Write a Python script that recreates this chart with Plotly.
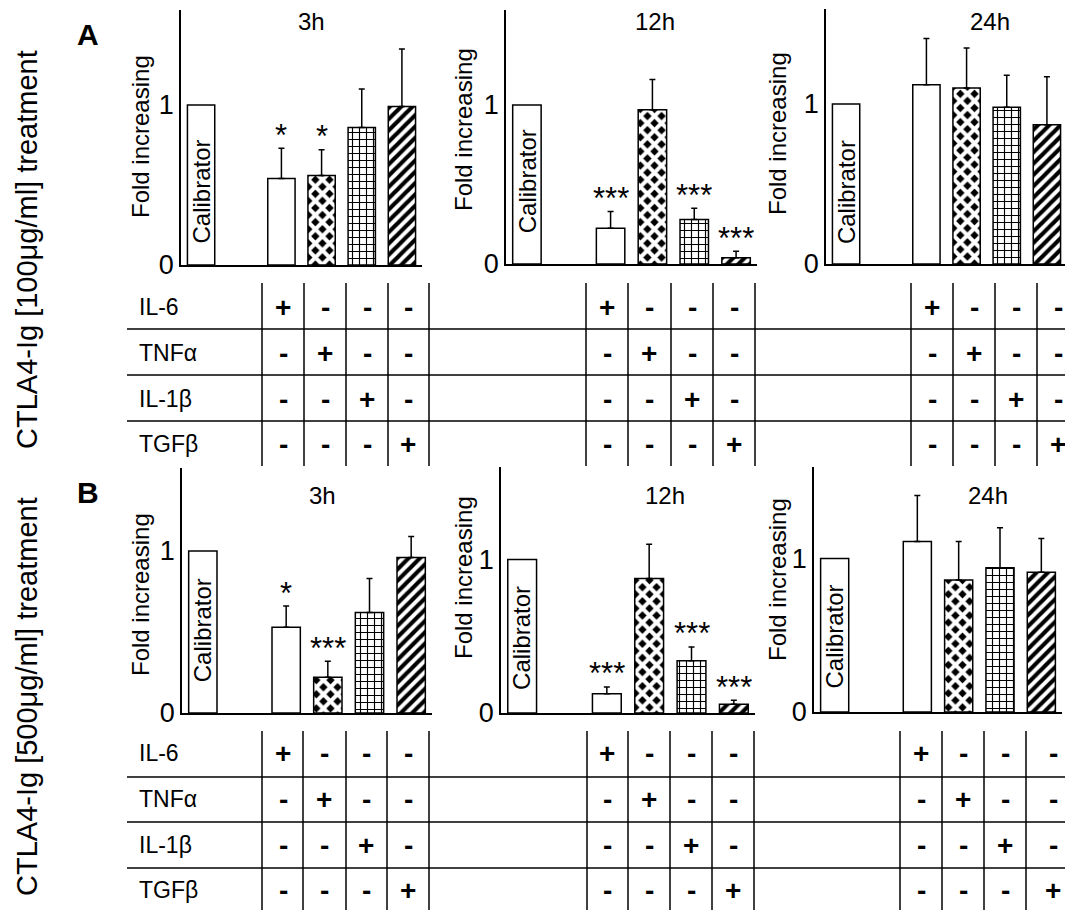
import plotly.graph_objects as go

# page is 1073x910; the html body adds an 8px margin around the figure.
# The figure height is set so that its drawn area covers page rows 8..910.
PAGE_W, PAGE_H = 1073, 910
OFF = 8
W = PAGE_W - 2 * OFF          # 1057
H = 918                        # layout height
HR = PAGE_H - OFF              # drawn height in the photograph
FONT = "Liberation Sans, Arial, sans-serif"

# ---------------- data ----------------
treatments = ["IL-6", "TNFα", "IL-1β", "TGFβ"]
timepoints = ["3h", "12h", "24h"]
panel_letters = ["A", "B"]
row_titles = ["CTLA4-Ig [100μg/ml] treatment", "CTLA4-Ig [500μg/ml] treatment"]
calibrator_value = 1.0

A_3h_mean = [0.54, 0.56, 0.86, 0.99]
A_3h_err = [0.19, 0.16, 0.24, 0.36]
A_3h_sig = ["*", "*", "", ""]

A_12h_mean = [0.225, 0.97, 0.28, 0.04]
A_12h_err = [0.105, 0.19, 0.07, 0.04]
A_12h_sig = ["***", "", "***", "***"]

A_24h_mean = [1.12, 1.10, 0.98, 0.87]
A_24h_err = [0.29, 0.25, 0.20, 0.30]
A_24h_sig = ["", "", "", ""]

B_3h_mean = [0.53, 0.22, 0.62, 0.96]
B_3h_err = [0.13, 0.10, 0.21, 0.13]
B_3h_sig = ["*", "***", "", ""]

B_12h_mean = [0.126, 0.876, 0.34, 0.057]
B_12h_err = [0.044, 0.224, 0.09, 0.026]
B_12h_sig = ["***", "", "***", "***"]

B_24h_mean = [1.11, 0.86, 0.94, 0.91]
B_24h_err = [0.30, 0.25, 0.26, 0.22]
B_24h_sig = ["", "", "", ""]

# ---------------- layout / style config (page pixels) ----------------
data = {
    ("A", "3h"): (A_3h_mean, A_3h_err, A_3h_sig),
    ("A", "12h"): (A_12h_mean, A_12h_err, A_12h_sig),
    ("A", "24h"): (A_24h_mean, A_24h_err, A_24h_sig),
    ("B", "3h"): (B_3h_mean, B_3h_err, B_3h_sig),
    ("B", "12h"): (B_12h_mean, B_12h_err, B_12h_sig),
    ("B", "24h"): (B_24h_mean, B_24h_err, B_24h_sig),
}
# pixel box: x_left, x_right, y_top, y_zero, pixels per unit
box = {
    ("A", "3h"): (181, 422, 10, 265, 160),
    ("A", "12h"): (506, 757, 10, 264, 159),
    ("A", "24h"): (826, 1067, 9, 264, 160),
    ("B", "3h"): (182, 432, 468, 713, 162),
    ("B", "12h"): (501, 755, 467, 713, 153.5),
    ("B", "24h"): (814, 1062, 467, 712, 153.5),
}
ylabel_pos = {
    ("A", "3h"): (140, 137), ("A", "12h"): (463, 130), ("A", "24h"): (778, 133),
    ("B", "3h"): (140, 595), ("B", "12h"): (463, 578), ("B", "24h"): (777, 580),
}
title_pos = {
    ("A", "3h"): (311, 22), ("A", "12h"): (655, 22), ("A", "24h"): (990, 22),
    ("B", "3h"): (322, 495), ("B", "12h"): (665, 495), ("B", "24h"): (988, 495),
}
calib_text_y = {
    ("A", "3h"): 0.46, ("A", "12h"): 0.52, ("A", "24h"): 0.45,
    ("B", "3h"): 0.51, ("B", "12h"): 0.49, ("B", "24h"): 0.49,
}

pat_shape = ["", "x", "+", "/"]
pat_bg = ["white", "black", "white", "white"]
pat_fg = ["black", "white", "black", "black"]
pat_sol = [0.2, 0.65, 0.3, 0.52]
pat_size = [8, 10, 7, 8]

BAR_W = 0.68
X_MIN, X_MAX = -0.5, 5.5


def px(x):
    return min(1.0, max(0.0, (x - OFF) / W))


def py(y):
    return min(1.0, max(0.0, 1 - (y - OFF) / HR))


fig = go.Figure()
annotations = []
shapes = []

k = 0
for letter in panel_letters:
    for tp in timepoints:
        k += 1
        key = (letter, tp)
        means, errs, sig = data[key]
        x0, x1, ytop, yzero, unit = box[key]
        xa = "x" if k == 1 else f"x{k}"
        ya = "y" if k == 1 else f"y{k}"
        xl = "xaxis" if k == 1 else f"xaxis{k}"
        yl = "yaxis" if k == 1 else f"yaxis{k}"

        ux = (x1 - x0) / (X_MAX - X_MIN)
        x1c = min(x1, OFF + W)
        xmax = X_MIN + (x1c - x0) / ux
        ytc = max(ytop, OFF)
        ymax = (yzero - ytc) / unit

        positions = [i + 2 for i in range(len(means))]

        fig.add_trace(go.Bar(
            x=[0], y=[calibrator_value], width=[BAR_W], xaxis=xa, yaxis=ya,
            marker=dict(color="white", line=dict(color="black", width=1.5)),
            showlegend=False, hoverinfo="skip"))
        fig.add_trace(go.Bar(
            x=positions, y=means, width=[BAR_W] * len(means), xaxis=xa, yaxis=ya,
            marker=dict(color="white", line=dict(color="black", width=1.5),
                        pattern=dict(shape=pat_shape, bgcolor=pat_bg, fgcolor=pat_fg,
                                     solidity=pat_sol, size=pat_size, fillmode="replace")),
            error_y=dict(type="data", symmetric=False, array=errs,
                         arrayminus=[0] * len(errs), color="black", thickness=1.5, width=3),
            showlegend=False, hoverinfo="skip"))

        fig.layout[xl] = dict(
            domain=[px(x0), px(x1c)], range=[X_MIN, xmax], anchor=ya,
            showline=True, linecolor="black", linewidth=1.5, showticklabels=False,
            ticks="", showgrid=False, zeroline=False, fixedrange=True)
        fig.layout[yl] = dict(
            domain=[py(yzero), py(ytc)], range=[0, ymax],
            anchor=xa, showline=True, linecolor="black", linewidth=1.5,
            tickvals=[0, 1], ticktext=["0", "1"], ticks="",
            tickfont=dict(family=FONT, size=27, color="black"),
            showgrid=False, zeroline=False, fixedrange=True)

        annotations.append(dict(
            x=0, y=calib_text_y[key], xref=xa, yref=ya, text="Calibrator",
            xanchor="center", yanchor="middle",
            textangle=-90, showarrow=False, font=dict(family=FONT, size=24, color="black")))
        for p, m, e, s in zip(positions, means, errs, sig):
            if s:
                annotations.append(dict(
                    x=p, y=m + e, xref=xa, yref=ya, text=s, showarrow=False,
                    xanchor="center", yanchor="middle", yshift=13,
                    font=dict(family=FONT, size=31, color="black")))
        lx, ly = ylabel_pos[key]
        annotations.append(dict(
            x=px(lx), y=py(ly), xref="paper", yref="paper", text="Fold increasing",
            xanchor="center", yanchor="middle",
            textangle=-90, showarrow=False, font=dict(family=FONT, size=24, color="black")))
        tx, ty = title_pos[key]
        annotations.append(dict(
            x=px(tx), y=py(ty), xref="paper", yref="paper", text=tp,
            xanchor="center", yanchor="middle",
            showarrow=False, font=dict(family=FONT, size=24, color="black")))

# ---------------- treatment tables ----------------
table_rows_y = {"A": [307, 353, 399, 444], "B": [753, 799, 845, 890]}
table_hlines = {"A": [329, 375, 421], "B": [777, 822, 868]}
table_vspan = {"A": (283, 466), "B": (731, 910)}
table_vlines = {
    "A": [262, 304, 346, 388, 429, 586, 628, 671, 713, 755, 911, 953, 995, 1037],
    "B": [262, 303, 346, 387, 429, 587, 628, 670, 712, 754, 900, 942, 984, 1026],
}
table_cols = {
    "A": [[283, 325, 367, 408], [607, 649, 692, 734], [932, 974, 1016, 1058]],
    "B": [[283, 324, 366, 408], [607, 649, 691, 733], [921, 963, 1005, 1053]],
}

for letter in panel_letters:
    for yy in table_hlines[letter]:
        shapes.append(dict(type="line", xref="paper", yref="paper",
                           x0=px(127), x1=1, y0=py(yy), y1=py(yy),
                           line=dict(color="black", width=1.5)))
    v0, v1 = table_vspan[letter]
    for xx in table_vlines[letter]:
        shapes.append(dict(type="line", xref="paper", yref="paper",
                           x0=px(xx), x1=px(xx), y0=py(v0), y1=py(v1),
                           line=dict(color="black", width=1.5)))
    for r, name in enumerate(treatments):
        ry = table_rows_y[letter][r]
        annotations.append(dict(
            x=px(137), y=py(ry), xref="paper", yref="paper", text=name,
            xanchor="left", yanchor="middle", showarrow=False,
            font=dict(family=FONT, size=23, color="black")))
        for group in table_cols[letter]:
            for c, cx in enumerate(group):
                sign = "+" if r == c else "-"
                annotations.append(dict(
                    x=px(cx), y=py(ry), xref="paper", yref="paper",
                    text=f"<b>{sign}</b>", showarrow=False,
                    xanchor="center", yanchor="middle",
                    font=dict(family=FONT, size=28, color="black")))

# ---------------- panel letters & row titles ----------------
letter_pos = {"A": (88, 35), "B": (88, 492)}
rowtitle_pos = {"A": (27, 250), "B": (27, 697)}
for letter, title in zip(panel_letters, row_titles):
    lx, ly = letter_pos[letter]
    annotations.append(dict(
        x=px(lx), y=py(ly), xref="paper", yref="paper", text=f"<b>{letter}</b>",
        xanchor="center", yanchor="middle",
        showarrow=False, font=dict(family=FONT, size=30, color="black")))
    rx, ry = rowtitle_pos[letter]
    annotations.append(dict(
        x=px(rx), y=py(ry), xref="paper", yref="paper", text=title,
        xanchor="center", yanchor="middle",
        textangle=-90, showarrow=False, font=dict(family=FONT, size=29, color="black")))

fig.update_layout(
    width=W, height=H, margin=dict(l=0, r=0, t=0, b=H - HR),
    paper_bgcolor="white", plot_bgcolor="white",
    barmode="overlay", annotations=annotations, shapes=shapes,
    showlegend=False, font=dict(family=FONT, color="black"))

fig.write_html("out.html", config={"displayModeBar": False})
